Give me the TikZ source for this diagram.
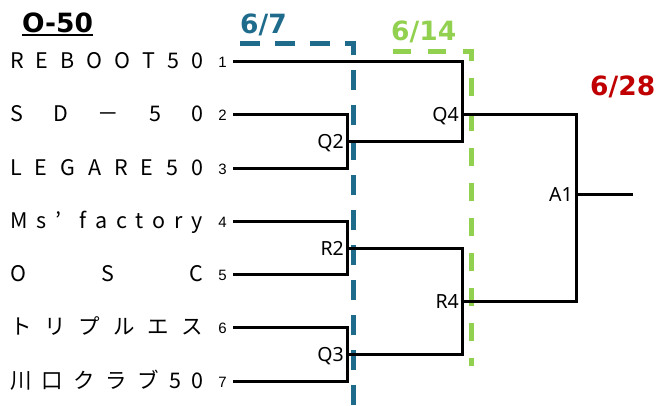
\documentclass[tikz,border=0pt]{standalone}
\usepackage{fontspec}
\setmainfont{Noto Sans CJK JP}
\newfontfamily\headfont{DejaVu Sans}
\newfontfamily\lblfont{Noto Sans}
\newfontfamily\numfont{Liberation Sans}
\usetikzlibrary{calc}
\definecolor{dblue}{HTML}{1F6B8C}
\definecolor{lgreen}{HTML}{92D050}
\definecolor{dred}{HTML}{C00000}
\newcommand\spreadname[1]{\hbox to 193pt{#1}}
\tikzset{
  team/.style={anchor=base west, inner sep=0pt, font=\fontsize{21.5}{21.5}\selectfont},
  num/.style={anchor=base east, inner sep=0pt, font=\numfont\fontsize{15}{15}\selectfont},
  mlbl/.style={anchor=base east, inner sep=0pt, font=\lblfont\fontsize{19.5}{19.5}\selectfont},
  head/.style={anchor=base west, inner sep=0pt, font=\headfont\bfseries\fontsize{26.5}{26.5}\selectfont},
  bracket/.style={line width=3pt, line join=miter},
  bluedash/.style={draw=dblue, line width=5pt, dash pattern=on 20pt off 15pt},
  greendash/.style={draw=lgreen, line width=5pt, dash pattern=on 18pt off 17pt},
}
\begin{document}
\begin{tikzpicture}[x=1pt,y=-1pt]
\useasboundingbox (0,0) rectangle (661,405);

% headings
\node[head] (title) at (22,32) {O-50};
\draw[line width=2pt] ($(title.base west)+(0,2.5)$) -- ($(title.base east)+(0,2.5)$);
\node[head, text=dblue] (d1) at (240,33) {6/7};
\node[head, text=lgreen] (d2) at (391,40) {6/14};
\node[head, text=dred] (d3) at (590,95) {6/28};

% round boundaries
\coordinate (bA) at (240,43);
\coordinate (bB) at (353,43);
\coordinate (bC) at (353,405);
\draw[bluedash] (bA) -- (bB) -- (bC);
\coordinate (gA) at (393,51);
\coordinate (gB) at (471,51);
\coordinate (gC) at (471,366);
\draw[greendash] (gA) -- (gB) -- (gC);

% teams
\node[team] (tm1) at (10,68) {\spreadname{R\hfill E\hfill B\hfill O\hfill O\hfill T\hfill 5\hfill 0}};
\node[team] (tm2) at (10,121) {\spreadname{S\hfill D\hfill －\hfill 5\hfill 0}};
\node[team] (tm3) at (10,175) {\spreadname{L\hfill E\hfill G\hfill A\hfill R\hfill E\hfill 5\hfill 0}};
\node[team] (tm4) at (10,228) {\spreadname{M\hfill s\hfill ’\hfill\hfill f\hfill a\hfill c\hfill t\hfill o\hfill r\hfill y}};
\node[team] (tm5) at (10,281) {\spreadname{O\hfill S\hfill C}};
\node[team] (tm6) at (10,334) {\spreadname{ト\hfill リ\hfill プ\hfill ル\hfill エ\hfill ス}};
\node[team] (tm7) at (10,388) {\spreadname{川\hfill 口\hfill ク\hfill ラ\hfill ブ\hfill 5\hfill 0}};

\node[num] (n1) at (227,67) {1};
\node[num] (n2) at (227,120) {2};
\node[num] (n3) at (227,174) {3};
\node[num] (n4) at (227,227) {4};
\node[num] (n5) at (227,280) {5};
\node[num] (n6) at (227,333) {6};
\node[num] (n7) at (227,387) {7};

\coordinate (t1) at (233,61);
\coordinate (t2) at (233,114);
\coordinate (t3) at (233,168);
\coordinate (t4) at (233,221);
\coordinate (t5) at (233,274);
\coordinate (t6) at (233,327);
\coordinate (t7) at (233,381);

% matches
\coordinate (q2) at (347,141);
\coordinate (r2) at (347,248);
\coordinate (q3) at (347,354);
\coordinate (q4) at (462,114);
\coordinate (r4) at (462,301);
\coordinate (a1) at (576,194);
\coordinate (win) at (633,194);

\draw[bracket] (t2) -| (q2) |- (t3);
\draw[bracket] (t4) -| (r2) |- (t5);
\draw[bracket] (t6) -| (q3) |- (t7);
\draw[bracket] (t1) -| (q4) |- (q2);
\draw[bracket] (r2) -| (r4) |- (q3);
\draw[bracket] (q4) -| (a1) |- (r4);
\draw[bracket] (a1) -- (win);

\node[mlbl] (lq2) at ($(q2)+(-3,7.5)$) {Q2};
\node[mlbl] (lr2) at ($(r2)+(-3,7.5)$) {R2};
\node[mlbl] (lq3) at ($(q3)+(-3,7.5)$) {Q3};
\node[mlbl] (lq4) at ($(q4)+(-3,7.5)$) {Q4};
\node[mlbl] (lr4) at ($(r4)+(-3,7.5)$) {R4};
\node[mlbl] (la1) at ($(a1)+(-3,7.5)$) {A1};
\end{tikzpicture}
\end{document}
